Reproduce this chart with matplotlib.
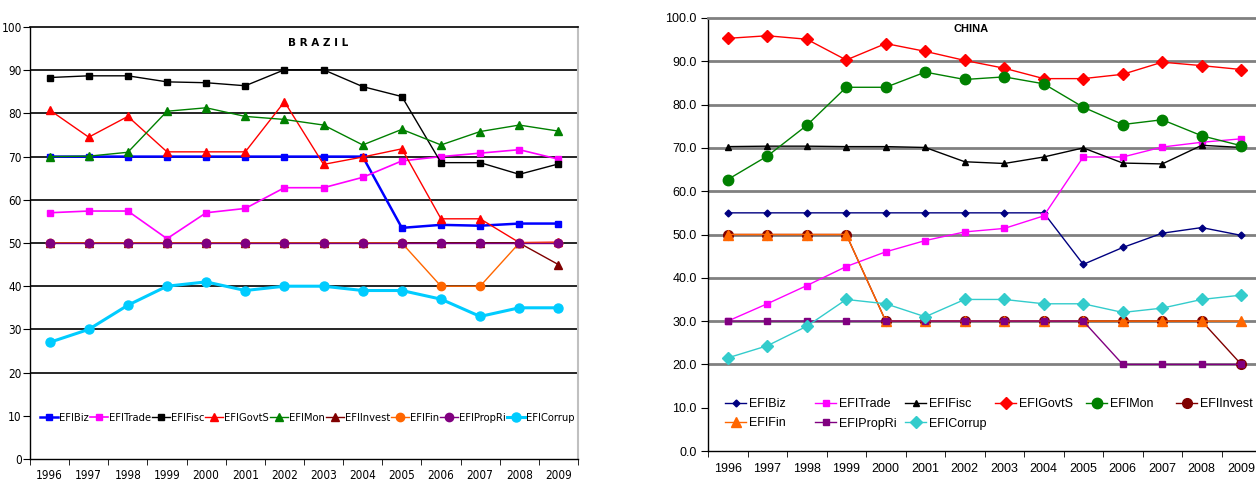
import numpy as np
import matplotlib.pyplot as plt

years = [str(y) for y in range(1996, 2010)]
series_names = ["EFIBiz", "EFITrade", "EFIFisc", "EFIGovtS", "EFIMon",
                "EFIInvest", "EFIFin", "EFIPropRi", "EFICorrup"]

# Brazil index components
br_biz = [70, 70, 70, 70, 70, 70, 70, 70, 70, 53.5, 54.2, 54.0, 54.5, 54.5]
br_trade = [57, 57.4, 57.4, 51, 57, 58, 62.8, 62.8, 65.2, 69, 70, 70.8, 71.6, 69.4]
br_fisc = [88.3, 88.7, 88.7, 87.3, 87.1, 86.4, 90.1, 90.1, 86.2, 83.9, 68.6, 68.6, 65.9, 68.3]
br_govts = [80.8, 74.5, 79.3, 71.1, 71.1, 71.1, 82.7, 68.2, 69.9, 71.8, 55.6, 55.6, 50.1, 50.2]
br_mon = [70, 70.1, 71, 80.5, 81.3, 79.3, 78.6, 77.3, 72.7, 76.3, 72.7, 75.8, 77.3, 75.9]
br_invest = [50, 50, 50, 50, 50, 50, 50, 50, 50, 50, 50, 50, 50, 45]
br_fin = [50, 50, 50, 50, 50, 50, 50, 50, 50, 50, 40, 40, 50, 50]
br_propri = [50, 50, 50, 50, 50, 50, 50, 50, 50, 50, 50, 50, 50, 50]
br_corrup = [27, 30, 35.6, 40, 41, 39, 40, 40, 39, 39, 37, 33, 35, 35]

# China index components
cn_biz = [55, 55, 55, 55, 55, 55, 55, 55, 55, 43.1, 47, 50.3, 51.6, 49.8]
cn_trade = [30, 34, 38.2, 42.6, 46, 48.6, 50.6, 51.4, 54.3, 67.9, 67.9, 70.2, 71.3, 72.1]
cn_fisc = [70.3, 70.4, 70.4, 70.3, 70.3, 70.1, 66.8, 66.4, 67.9, 70, 66.5, 66.3, 70.6, 70.1]
cn_govts = [95.3, 95.9, 95.1, 90.3, 94.1, 92.3, 90.2, 88.4, 86, 86, 87, 89.8, 89, 88.1]
cn_mon = [62.7, 68.1, 75.2, 84, 84, 87.5, 85.8, 86.4, 84.8, 79.4, 75.4, 76.5, 72.8, 70.5]
cn_invest = [50, 50, 50, 50, 30, 30, 30, 30, 30, 30, 30, 30, 30, 20]
cn_fin = [50, 50, 50, 50, 30, 30, 30, 30, 30, 30, 30, 30, 30, 30]
cn_propri = [30, 30, 30, 30, 30, 30, 30, 30, 30, 30, 20, 20, 20, 20]
cn_corrup = [21.5, 24.3, 28.8, 35, 34, 31, 35, 35, 34, 34, 32, 33, 35, 36]

# (color, marker, markersize, linewidth)
BR_STYLE = [("#0000ff", "s", 5, 1.8), ("#ff00ff", "s", 5, 1.2), ("#000000", "s", 5, 1.0),
            ("#ff0000", "^", 5.5, 1.0), ("#008000", "^", 5.5, 1.0), ("#800000", "^", 5.5, 1.0),
            ("#ff6600", "o", 6, 1.0), ("#800080", "o", 6, 1.0), ("#00ccff", "o", 6.5, 2.2)]
CN_STYLE = [("#000080", "D", 3.5, 1.0), ("#ff00ff", "s", 5, 1.0), ("#000000", "^", 5, 1.0),
            ("#ff0000", "D", 6, 1.0), ("#008000", "o", 7.5, 1.0), ("#800000", "o", 7, 1.0),
            ("#ff6600", "^", 7, 1.0), ("#800080", "s", 5, 1.0), ("#33cccc", "D", 6, 1.0)]

brazil = [br_biz, br_trade, br_fisc, br_govts, br_mon, br_invest, br_fin, br_propri, br_corrup]
china = [cn_biz, cn_trade, cn_fisc, cn_govts, cn_mon, cn_invest, cn_fin, cn_propri, cn_corrup]

fig = plt.figure(figsize=(12.56, 4.8), dpi=100)
W, H = 1256.0, 480.0


def setup_axis(ax, fmt, font, grid_color, grid_lw, xpad, ypad, fsize, stretch="normal"):
    x = np.arange(len(years))
    ax.set_xlim(-0.5, len(years) - 0.5)
    ax.set_ylim(0, 100)
    ax.set_yticks(range(0, 101, 10))
    ax.set_yticklabels([fmt.format(v) for v in range(0, 101, 10)], fontsize=fsize,
                       family=font, stretch=stretch)
    ax.set_xticks(x)
    ax.set_xticklabels(years, fontsize=fsize, family=font, stretch=stretch)
    ax.set_xticks(np.arange(-0.5, len(years)), minor=True)
    ax.tick_params(axis="x", which="major", length=0, pad=xpad)
    ax.tick_params(axis="x", which="minor", length=4, direction="out")
    ax.tick_params(axis="y", length=5, direction="out", pad=ypad)
    for v in range(20, 100, 10):
        ax.axhline(v, color=grid_color, lw=grid_lw, zorder=0)
    for s in ("left", "bottom"):
        ax.spines[s].set_color("black")
        ax.spines[s].set_linewidth(1.0)
    ax.spines["top"].set_color(grid_color)
    ax.spines["top"].set_linewidth(grid_lw)
    ax.spines["right"].set_color("#c0c0c0")
    ax.spines["right"].set_linewidth(1.5)
    return x


# Brazil panel
ax1 = fig.add_axes([30 / W, 21 / H, 548 / W, 432 / H])
x = setup_axis(ax1, "{}", "DejaVu Sans", "#000000", 1.2, 7, 1, 8.5, "condensed")
for vals, name, (c, m, ms, lw) in zip(brazil, series_names, BR_STYLE):
    ax1.plot(x, vals, color=c, marker=m, markersize=ms, lw=lw, label=name, zorder=3)
ax1.text(0.525, 0.975, "B R A Z I L", transform=ax1.transAxes, ha="center", va="top",
         fontsize=7.5, fontweight="bold")
ax1.legend(loc="center left", bbox_to_anchor=(40 / W, (480 - 418) / H),
           bbox_transform=fig.transFigure, ncol=9, frameon=False,
           prop={"family": "DejaVu Sans", "stretch": "condensed", "size": 8},
           handlelength=1.6, handletextpad=0.1, columnspacing=0.1,
           borderpad=0, borderaxespad=0)

# China panel
ax2 = fig.add_axes([708 / W, 29 / H, 553 / W, 433 / H])
x = setup_axis(ax2, "{:.1f}", "Liberation Sans", "#808080", 2.0, 9, 3, 9)
ax2.spines["right"].set_visible(False)
handles = []
for vals, name, (c, m, ms, lw) in zip(china, series_names, CN_STYLE):
    h, = ax2.plot(x, vals, color=c, marker=m, markersize=ms, lw=lw, label=name, zorder=3)
    handles.append(h)
ax2.text(0.475, 0.985, "CHINA", transform=ax2.transAxes, ha="center", va="top",
         fontsize=8, fontweight="bold", family="Liberation Sans")

# legend laid out in fixed-width columns, two rows
legend_cols = [(725, [0, 6]), (815, [1, 7]), (905, [2, 8]),
               (995, [3]), (1086, [4]), (1176, [5])]
for i, (xpx, idx) in enumerate(legend_cols):
    leg = ax2.legend([handles[k] for k in idx], [series_names[k] for k in idx],
                     loc="upper left", bbox_to_anchor=(xpx / W, (480 - 398) / H),
                     bbox_transform=fig.transFigure, frameon=False,
                     prop={"family": "Liberation Sans", "size": 9},
                     handlelength=1.7, handletextpad=0.2, borderpad=0,
                     borderaxespad=0, labelspacing=0.6)
    if i < len(legend_cols) - 1:
        ax2.add_artist(leg)

fig.savefig("out.png", dpi=100)
